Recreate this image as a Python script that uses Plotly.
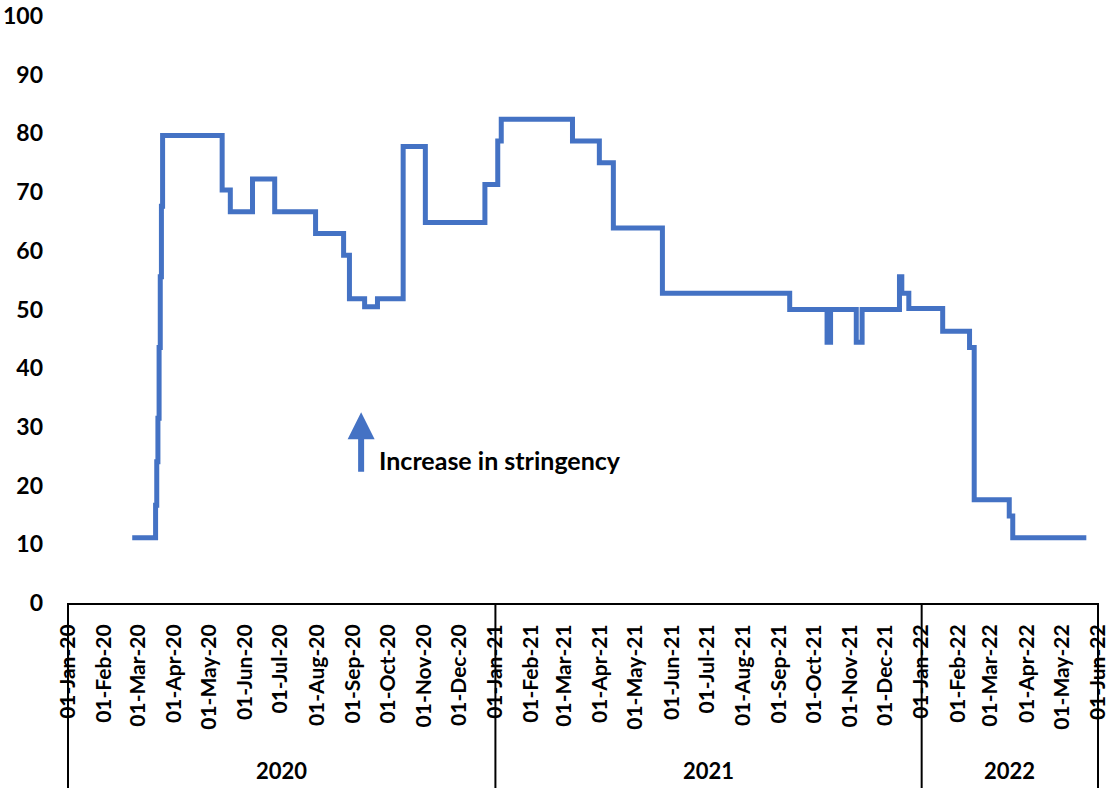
import plotly.graph_objects as go
import pandas as pd

# ---- data ----
change_dates = ["2020-02-25", "2020-03-16", "2020-03-17", "2020-03-18", "2020-03-19",
                "2020-03-20", "2020-03-21", "2020-03-22", "2020-05-12", "2020-05-19",
                "2020-06-07", "2020-06-26", "2020-07-31", "2020-08-24", "2020-08-29",
                "2020-09-11", "2020-09-22", "2020-10-14", "2020-11-02", "2020-12-23",
                "2021-01-03", "2021-01-06", "2021-03-08", "2021-03-31", "2021-04-12",
                "2021-05-24", "2021-09-10", "2021-10-12", "2021-10-15", "2021-11-06",
                "2021-11-11", "2021-12-13", "2021-12-15", "2021-12-21", "2022-01-19",
                "2022-02-11", "2022-02-15", "2022-03-17", "2022-03-20", "2022-05-22"]
stringency = [11.11, 16.67, 24.07, 31.48, 43.52,
              55.56, 67.59, 79.63, 70.37, 66.67,
              72.22, 66.67, 62.96, 59.26, 51.85,
              50.46, 51.85, 77.78, 64.81, 71.30,
              78.70, 82.41, 78.70, 75.00, 63.89,
              52.78, 50.00, 44.44, 50.00, 44.44,
              50.00, 55.56, 52.78, 50.19, 46.30,
              43.52, 17.59, 14.81, 11.11, 11.11]

month_ticks = pd.date_range("2020-01-01", "2022-06-01", freq="MS")
year_bounds = ["2020-01-01", "2021-01-01", "2022-01-01", "2022-06-01"]
year_labels = ["2020", "2021", "2022"]
y_ticks = [0, 10, 20, 30, 40, 50, 60, 70, 80, 90, 100]

annot_text = "Increase in stringency"
annot_date = "2020-09-08"
annot_value = 32.5

FONT = "Lato"
BLUE = "#4472C4"

fig = go.Figure()
fig.add_trace(go.Scatter(
    x=change_dates, y=stringency, mode="lines",
    line=dict(color=BLUE, width=5, shape="hv"),
    showlegend=False, hoverinfo="skip"))

fig.update_layout(
    width=1110, height=788,
    margin=dict(l=68, r=12, t=16, b=185),
    paper_bgcolor="white", plot_bgcolor="white",
    showlegend=False,
)

fig.update_xaxes(
    type="date",
    range=[year_bounds[0], year_bounds[-1]],
    tickmode="array",
    tickvals=list(month_ticks),
    ticktext=[d.strftime("%d-%b-%y") for d in month_ticks],
    tickangle=-90,
    tickfont=dict(family=FONT, size=21, color="black", weight="bold"),
    ticks="",
    ticklabelstandoff=11,
    ticklabeloverflow="allow",
    automargin=False,
    showgrid=False, zeroline=False,
    showline=True, linecolor="black", linewidth=2,
)
fig.update_yaxes(
    range=[0, 100],
    tickmode="array", tickvals=y_ticks,
    tickfont=dict(family=FONT, size=23, color="black", weight="bold"),
    ticks="", ticklabelstandoff=24,
    ticklabeloverflow="allow",
    automargin=False,
    showgrid=False, zeroline=False, showline=False,
)

# year group separators (positioned as fractions of the date range)
t0 = pd.Timestamp(year_bounds[0])
t1 = pd.Timestamp(year_bounds[-1])
for b in year_bounds:
    frac = (pd.Timestamp(b) - t0) / (t1 - t0)
    fig.add_shape(type="line", xref="x domain", yref="paper",
                  x0=frac, x1=frac, y0=0, y1=-0.33,
                  line=dict(color="black", width=2))

# year labels centred in each group
for i, lab in enumerate(year_labels):
    a = pd.Timestamp(year_bounds[i])
    b = pd.Timestamp(year_bounds[i + 1])
    mid = a + (b - a) / 2
    fig.add_annotation(x=mid, y=-0.286, xref="x", yref="paper",
                       xanchor="center", yanchor="middle",
                       text=lab, showarrow=False,
                       font=dict(family=FONT, size=22, color="black", weight="bold"))

# arrow + text annotation
fig.add_annotation(x=annot_date, y=annot_value, xref="x", yref="y",
                   ax=0, ay=61, axref="pixel", ayref="pixel",
                   showarrow=True, arrowhead=2, arrowsize=0.9, arrowwidth=6,
                   arrowcolor=BLUE, text="")
fig.add_annotation(x=annot_date, y=annot_value, xref="x", yref="y",
                   xshift=16, yshift=-48, xanchor="left", yanchor="middle",
                   showarrow=False, text=annot_text,
                   font=dict(family=FONT, size=25, color="black", weight="bold"))

fig.write_html("out.html",
               config={"displayModeBar": False},
               post_script="document.body.style.margin='0';document.body.style.overflow='hidden';")
